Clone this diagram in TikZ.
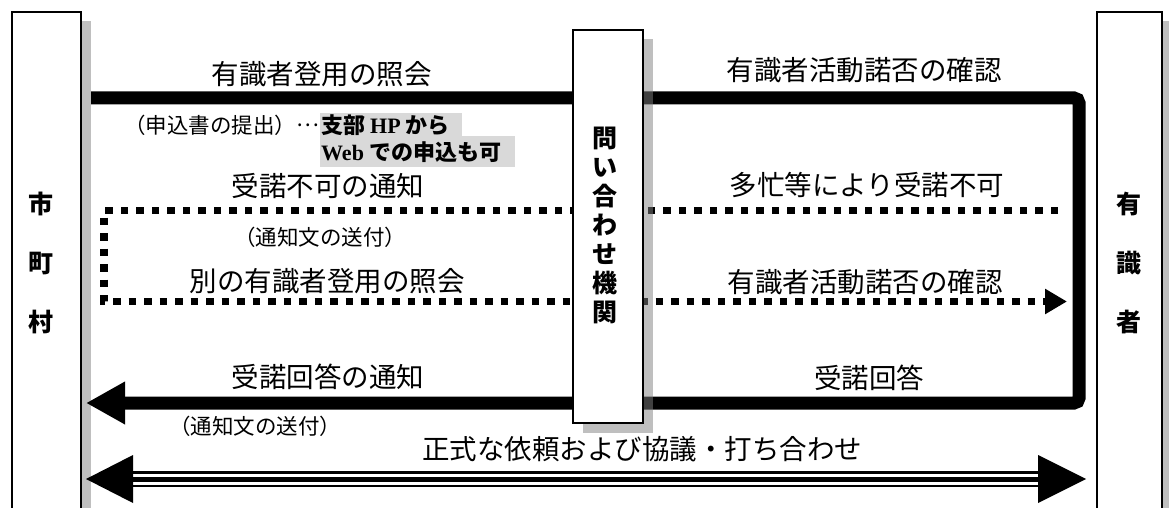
\documentclass[tikz,border=0pt]{standalone}
\usepackage{fontspec}
\newfontfamily\jp{Noto Sans CJK JP}
\newfontfamily\lat{Liberation Serif}
\usetikzlibrary{arrows.meta}
\definecolor{shadowgray}{RGB}{191,191,191}
\definecolor{hlgray}{RGB}{217,217,217}
\definecolor{midgray}{RGB}{128,128,128}
\begin{document}
\begin{tikzpicture}[x=1pt,y=-1pt,
  box/.style={draw=black, line width=1.6pt, fill=white, inner sep=0pt, anchor=north west},
  lbl/.style={font=\jp\fontsize{27.5}{30}\selectfont, inner sep=0pt},
  sml/.style={font=\jp\fontsize{21.5}{24}\selectfont, inner sep=0pt},
  hl/.style={font=\jp\bfseries\fontsize{22}{24}\selectfont, inner sep=0pt, anchor=west},
  vtext/.style={font=\jp\bfseries\fontsize{25}{29}\selectfont, align=center, inner sep=0pt},
  sidetext/.style={font=\jp\bfseries\fontsize{25}{59}\selectfont, align=center, inner sep=0pt},
  thickflow/.style={line width=13pt, rounded corners=5pt},
  dotflow/.style={line width=7.5pt, dash pattern=on 7.5pt off 8pt},
]
\useasboundingbox (0,0) rectangle (1169,508);
\fill[white] (0,0) rectangle (1169,508);
% side shadows
\fill[shadowgray] (80,21) rectangle (91,515);
\fill[shadowgray] (1161,21) rectangle (1169,515);
% side boxes
\node[box, minimum width=69pt, minimum height=520pt] (city) at (11,11) {};
\node[box, minimum width=65pt, minimum height=520pt] (expert) at (1096,11) {};
\node[sidetext] (cityt) at (41,262.5) {市\\町\\村};
\node[sidetext] (expertt) at (1128.5,262.5) {有\\識\\者};
% thick flow
\coordinate (t0) at (91,98);
\coordinate (t1) at (1079,98);
\coordinate (t2) at (1079,403);
\coordinate (tE) at (86,403);
\draw[thickflow, -{Triangle[length=39pt,width=40pt]}] (t0) -- (t1) -- (t2) -- (tE);
% dotted flow
\coordinate (d0) at (1058,210.5);
\coordinate (d1) at (104,210.5);
\coordinate (d2) at (104,301.5);
\coordinate (dE) at (1067,301.5);
\draw[dotflow, -{Triangle[length=22pt,width=24pt]}] (d0) -- (d1) -- (d2) -- (dE);
% triple double arrow
\coordinate (r0) at (86,479);
\coordinate (r1) at (1086,479);
\coordinate (r0a) at (128,479);
\coordinate (r1a) at (1042,479);
\coordinate (r0b) at (133,455);
\coordinate (r0c) at (133,503);
\coordinate (r1b) at (1038,455);
\coordinate (r1c) at (1038,503);
\draw[line width=16pt] (r0a) -- (r1a);
\draw[white, line width=11pt] (r0a) -- (r1a);
\draw[line width=5pt] (r0a) -- (r1a);
\fill (r0) -- (r0b) -- (r0c) -- cycle;
\fill (r1) -- (r1b) -- (r1c) -- cycle;
% middle box
\fill[midgray, fill opacity=0.5] (583,39) rectangle (653,433);
\node[box, minimum width=70pt, minimum height=393pt] (mid) at (572,29) {};
\node[vtext] (midt) at (605,225.5) {問\\い\\合\\わ\\せ\\機\\関};
% labels
\node[lbl] (q1) at (321.5,74) {有識者登用の照会};
\node[lbl] (q2) at (864,70) {有識者活動諾否の確認};
\node[lbl] (n1) at (328,186) {受諾不可の通知};
\node[lbl] (n2) at (867,185) {多忙等により受諾不可};
\node[lbl] (q3) at (327,281) {別の有識者登用の照会};
\node[lbl] (q4) at (865,282) {有識者活動諾否の確認};
\node[lbl] (a1) at (328,377) {受諾回答の通知};
\node[lbl] (a2) at (869,378) {受諾回答};
\node[lbl] (f) at (642,449) {正式な依頼および協議・打ち合わせ};
\node[sml, anchor=east] (s1) at (319,125) {（申込書の提出）\raisebox{0.3em}{…}};
\node[sml] (s2) at (320,237) {（通知文の送付）};
\node[sml] (s3) at (255,426) {（通知文の送付）};
% highlighted note
\fill[hlgray] (320,113) rectangle (462,136);
\fill[hlgray] (320,136) rectangle (515,167);
\node[hl] (w1) at (321,125) {支部 {\lat\bfseries HP} から};
\node[hl] (w2) at (321,152) {{\lat\bfseries Web} での申込も可};
\end{tikzpicture}
\end{document}
